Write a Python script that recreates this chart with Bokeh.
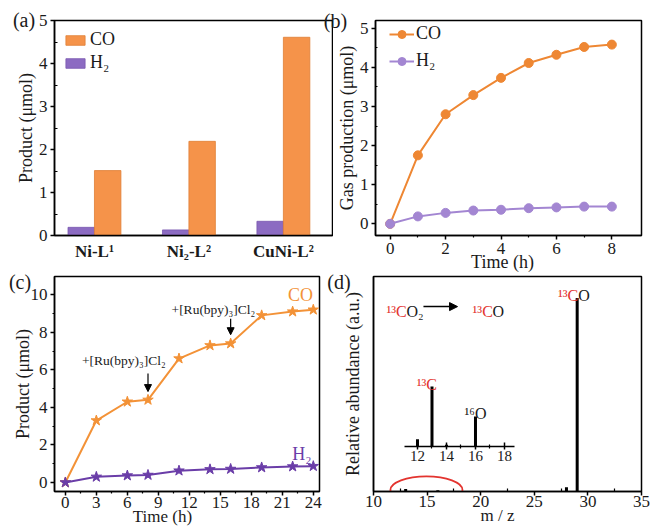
from bokeh.plotting import figure
from bokeh.models import (Range1d, FixedTicker, LinearAxis, Label, Arrow, NormalHead,
                          Legend, LegendItem, ColumnDataSource)
from bokeh.transform import dodge
from bokeh.layouts import row, column
from bokeh.embed import file_html
from bokeh.resources import INLINE

FONT = "Liberation Serif"

# ---------------- data ----------------
# (a) product by catalyst
catalysts = ["Ni-L¹", "Ni₂-L²", "CuNi-L²"]
cat_pos = [1, 2, 3]
bar_h2 = [0.19, 0.13, 0.33]
bar_co = [1.51, 2.19, 4.61]
a_yticks = [0, 1, 2, 3, 4, 5]
a_yminor = [0.5, 1.5, 2.5, 3.5, 4.5]

# (b) gas production vs time
time_b = [0, 1, 2, 3, 4, 5, 6, 7, 8]
gas_co = [0.0, 1.75, 2.80, 3.29, 3.73, 4.11, 4.32, 4.52, 4.58]
gas_h2 = [0.0, 0.19, 0.28, 0.34, 0.36, 0.40, 0.42, 0.44, 0.44]
b_xticks = [0, 2, 4, 6, 8]
b_xminor = [1, 3, 5, 7]
b_yticks = [0, 1, 2, 3, 4, 5]
b_yminor = [0.5, 1.5, 2.5, 3.5, 4.5]

# (c) long-run product vs time
time_c = [0, 3, 6, 8, 11, 14, 16, 19, 22, 24]
prod_co = [0.0, 3.3, 4.3, 4.4, 6.6, 7.3, 7.4, 8.9, 9.1, 9.2]
prod_h2 = [0.0, 0.30, 0.37, 0.40, 0.63, 0.70, 0.72, 0.80, 0.85, 0.87]
ru_times = [8, 16]
c_xticks = [0, 3, 6, 9, 12, 15, 18, 21, 24]
c_xminor = [1.5, 4.5, 7.5, 10.5, 13.5, 16.5, 19.5, 22.5]
c_yticks = [0, 2, 4, 6, 8, 10]
c_yminor = [1, 3, 5, 7, 9]

# (d) mass spectrum
mz_main = [13, 16, 28, 29]
ab_main = [0.012, 0.006, 0.02, 0.90]
mz_inset = [12, 13, 14, 16]
ab_inset = [0.12, 1.0, 0.03, 0.5]
d_xticks = [10, 15, 20, 25, 30, 35]
d_xminor = [12.5, 17.5, 22.5, 27.5, 32.5]
in_ticks = [12, 14, 16, 18]
in_minor = [13, 15, 17]

# texts that sit outside the plot frames (panel letters, x-axis titles)
outer_texts = ["(a)", "(b)", "(c)", "(d)", "Time (h)", "Time (h)", "m / z"]

# ---------------- layout / styles ----------------
outer_pos = [(23.5, 19), (335, 20), (19.5, 281), (338.5, 281.5),
             (502, 261), (162, 516), (497, 515)]
outer_size = ["20px"] * 4 + ["18px", "17px", "17px"]

ORANGE_BAR = "#F5934A"
PURPLE_BAR = "#8C6BC2"
ORANGE_B = "#EE8733"
PURPLE_B = "#A386D2"
ORANGE_C = "#F39237"
PURPLE_C = "#6A3DA8"
RED = "#E3342F"
TXT = "#1a1a1a"


def make_fig(w, h, xr, yr, left, right, top, bottom):
    p = figure(width=w, height=h, x_range=xr, y_range=yr, output_backend="svg",
               toolbar_location=None, min_border_left=left, min_border_right=right,
               min_border_top=top, min_border_bottom=bottom)
    p.grid.visible = False
    p.outline_line_color = "black"
    p.outline_line_width = 1.5
    p.outline_line_alpha = 1.0
    p.background_fill_color = "white"
    p.border_fill_color = "white"
    return p


def style_axis(ax, size="17px", out=4, tin=0, mout=2, mtin=0, standoff=3):
    ax.axis_line_width = 1.5
    ax.axis_line_color = "black"
    ax.major_tick_line_width = 1.5
    ax.minor_tick_line_width = 1.2
    ax.major_tick_out = out
    ax.major_tick_in = tin
    ax.minor_tick_out = mout
    ax.minor_tick_in = mtin
    ax.major_label_text_font = FONT
    ax.major_label_text_font_size = size
    ax.major_label_text_color = TXT
    ax.major_label_standoff = standoff


def axis_title(ax, text, standoff):
    ax.axis_label = text
    ax.axis_label_standoff = standoff
    ax.axis_label_text_font = FONT
    ax.axis_label_text_font_size = "18px"
    ax.axis_label_text_font_style = "normal"
    ax.axis_label_text_color = TXT


def text_label(p, x, y, text, size="18px", color=TXT, align="center", baseline="middle",
               dx=0, dy=0, xr="default", yr="default"):
    lab = Label(x=x, y=y, text=text, x_offset=dx, y_offset=dy,
                text_font=FONT, text_font_size=size, text_color=color,
                text_align=align, text_baseline=baseline,
                x_range_name=xr, y_range_name=yr)
    p.add_layout(lab)


# ---------------- (a) ----------------
xa = Range1d(0.577, 3.52)
ya = Range1d(0, 5)
pa = make_fig(333, 265, xa, ya, 54, 1, 20, 30)
src_a = ColumnDataSource(dict(x=cat_pos, h2=bar_h2, co=bar_co))
r_h2 = pa.vbar(x=dodge('x', -0.14), top='h2', width=0.28, source=src_a,
               fill_color=PURPLE_BAR, line_color="#7a58b0", line_width=0.8)
r_co = pa.vbar(x=dodge('x', 0.14), top='co', width=0.28, source=src_a,
               fill_color=ORANGE_BAR, line_color="#e07f35", line_width=0.8)
pa.xaxis.ticker = FixedTicker(ticks=cat_pos)
pa.xaxis.major_label_overrides = {k: v for k, v in zip(cat_pos, catalysts)}
style_axis(pa.xaxis[0], out=0, mout=0, standoff=6)
pa.xaxis.major_label_text_font_style = "bold"
pa.yaxis.ticker = FixedTicker(ticks=a_yticks, minor_ticks=a_yminor)
style_axis(pa.yaxis[0], out=4, mout=0, mtin=3, standoff=3)
axis_title(pa.yaxis[0], "Product (μmol)", 0)
leg_a = Legend(items=[LegendItem(label="CO", renderers=[r_co]),
                      LegendItem(label="H₂", renderers=[r_h2])],
               location="top_left", margin=9, padding=0, spacing=2,
               glyph_width=24, glyph_height=12, label_height=21, label_standoff=3,
               label_text_font=FONT, label_text_font_size="18px", label_text_color=TXT,
               background_fill_alpha=0, border_line_alpha=0)
pa.add_layout(leg_a)

# ---------------- (b) ----------------
xb = Range1d(-0.53, 9.07)
yb = Range1d(-0.298, 5.196)
pb = make_fig(317, 265, xb, yb, 38, 9, 19, 30)
l_co = pb.line(time_b, gas_co, line_color=ORANGE_B, line_width=2)
s_co = pb.scatter(time_b, gas_co, marker="circle", size=9, fill_color=ORANGE_B,
                  line_color=ORANGE_B)
l_h2 = pb.line(time_b, gas_h2, line_color=PURPLE_B, line_width=2)
s_h2 = pb.scatter(time_b, gas_h2, marker="circle", size=9, fill_color=PURPLE_B,
                  line_color=PURPLE_B)
pb.xaxis.ticker = FixedTicker(ticks=b_xticks, minor_ticks=b_xminor)
style_axis(pb.xaxis[0], out=4, mout=2, standoff=3)
pb.yaxis.ticker = FixedTicker(ticks=b_yticks, minor_ticks=b_yminor)
style_axis(pb.yaxis[0], out=4, mout=0, mtin=2, standoff=3)
axis_title(pb.yaxis[0], "Gas production (μmol)", 0)
leg_b = Legend(items=[LegendItem(label="CO", renderers=[l_co, s_co]),
                      LegendItem(label="H₂", renderers=[l_h2, s_h2])],
               location=(14, 164), margin=0, padding=0, spacing=6,
               glyph_width=25, glyph_height=20, label_height=21, label_standoff=2,
               label_text_font=FONT, label_text_font_size="18px", label_text_color=TXT,
               background_fill_alpha=0, border_line_alpha=0)
pb.add_layout(leg_b)

# ---------------- (c) ----------------
xc = Range1d(-1.05, 24.6)
yc = Range1d(-0.48, 10.97)
pc = make_fig(322, 261, xc, yc, 54, 3, 11, 35)
pc.line(time_c, prod_co, line_color=ORANGE_C, line_width=2)
pc.scatter(time_c, prod_co, marker="star", size=11, fill_color=ORANGE_C, line_color=ORANGE_C)
pc.line(time_c, prod_h2, line_color=PURPLE_C, line_width=2)
pc.scatter(time_c, prod_h2, marker="star", size=11, fill_color=PURPLE_C, line_color=PURPLE_C)
pc.xaxis.ticker = FixedTicker(ticks=c_xticks, minor_ticks=c_xminor)
style_axis(pc.xaxis[0], out=4, mout=2, standoff=1)
pc.yaxis.ticker = FixedTicker(ticks=c_yticks, minor_ticks=c_yminor)
style_axis(pc.yaxis[0], out=4, mout=2, standoff=3)
axis_title(pc.yaxis[0], "Product (μmol)", -5)
text_label(pc, 22.75, 9.97, "CO", color=ORANGE_C)
text_label(pc, 22.9, 1.5, "H₂", color=PURPLE_C)
ru_label_pos = [(5.66, 6.49), (14.33, 9.2)]
ru_arrow_y = [(5.8, 4.84), (8.72, 7.87)]
for t, (lx, ly), (y0, y1) in zip(ru_times, ru_label_pos, ru_arrow_y):
    text_label(pc, lx, ly, "+[Ru(bpy)₃]Cl₂", size="13.5px")
    pc.add_layout(Arrow(end=NormalHead(size=7, fill_color="black", line_color="black"),
                        x_start=t, y_start=y0, x_end=t, y_end=y1,
                        line_color="black", line_width=1.2))

# ---------------- (d) ----------------
xd = Range1d(10, 35)
yd = Range1d(0, 1)
pd = make_fig(328, 261, xd, yd, 51, 9, 11, 35)
pd.extra_x_ranges = {"inset_x": Range1d(8.966, 27.45)}
pd.extra_y_ranges = {"inset_y": Range1d(-0.75, 2.833)}
src_d = ColumnDataSource(dict(mz=mz_main, ab=ab_main, base=[0] * len(mz_main)))
pd.segment(x0='mz', y0='base', x1='mz', y1='ab', source=src_d, line_color="black", line_width=3)
src_in = ColumnDataSource(dict(mz=mz_inset, ab=ab_inset, base=[0] * len(mz_inset)))
pd.segment(x0='mz', y0='base', x1='mz', y1='ab', source=src_in, line_color="black",
           line_width=3, x_range_name="inset_x", y_range_name="inset_y")
pd.xaxis.ticker = FixedTicker(ticks=d_xticks, minor_ticks=d_xminor)
style_axis(pd.xaxis[0], out=4, mout=0, mtin=3, standoff=0)
pd.yaxis.ticker = FixedTicker(ticks=[])
style_axis(pd.yaxis[0], out=0, mout=0, standoff=0)
axis_title(pd.yaxis[0], "Relative abundance (a.u.)", 11)
ax_in = LinearAxis(x_range_name="inset_x", y_range_name="inset_y", fixed_location=0,
                   bounds=(11.1, 18.7), ticker=FixedTicker(ticks=in_ticks, minor_ticks=in_minor))
style_axis(ax_in, size="15px", out=3, tin=4, mout=2, mtin=2, standoff=2)
pd.add_layout(ax_in, "below")

# ellipse marking the zoomed region
pd.ellipse(x=14.94, y=0.007, width=6.72, height=0.126, fill_alpha=0,
           line_color=RED, line_width=1.8)

# peak labels
text_label(pd, 29, 0.90, "¹³C", size="16px", color=RED, align="right", baseline="alphabetic", dx=1, dy=3)
text_label(pd, 29, 0.90, "O", size="16px", align="left", baseline="alphabetic", dx=1, dy=3)
text_label(pd, 13, 1.0, "¹³C", size="16px", color=RED, align="right", baseline="alphabetic",
           dx=5, dy=2, xr="inset_x", yr="inset_y")
text_label(pd, 16, 0.5, "¹⁶O", size="16px", align="center", baseline="alphabetic",
           dy=3, xr="inset_x", yr="inset_y")
# reaction text
text_label(pd, 11.21, 0.837, "¹³C", size="16px", color=RED, align="left", baseline="alphabetic")
text_label(pd, 11.21, 0.837, "O₂", size="16px", align="left", baseline="alphabetic", dx=20)
pd.add_layout(Arrow(end=NormalHead(size=8, fill_color="black", line_color="black"),
                    x_start=14.66, y_start=0.86, x_end=17.84, y_end=0.86,
                    line_color="black", line_width=1.5))
text_label(pd, 19.24, 0.837, "¹³C", size="16px", color=RED, align="left", baseline="alphabetic")
text_label(pd, 19.24, 0.837, "O", size="16px", align="left", baseline="alphabetic", dx=20)

# ---------------- transparent overlay for texts outside the frames ----------------
ov = figure(width=650, height=526, x_range=Range1d(0, 650), y_range=Range1d(526, 0),
            output_backend="svg", toolbar_location=None, min_border=0,
            min_border_left=0, min_border_right=0, min_border_top=0, min_border_bottom=0,
            x_axis_location=None, y_axis_location=None)
ov.grid.visible = False
ov.outline_line_color = None
ov.background_fill_alpha = 0
ov.border_fill_alpha = 0
ov.margin = (-526, 0, 0, 0)
for txt, (x, y), sz in zip(outer_texts, outer_pos, outer_size):
    text_label(ov, x, y, txt, size=sz)

layout = column(row(pa, pb), row(pc, pd), ov)
open("out.html", "w").write(file_html(layout, INLINE))
